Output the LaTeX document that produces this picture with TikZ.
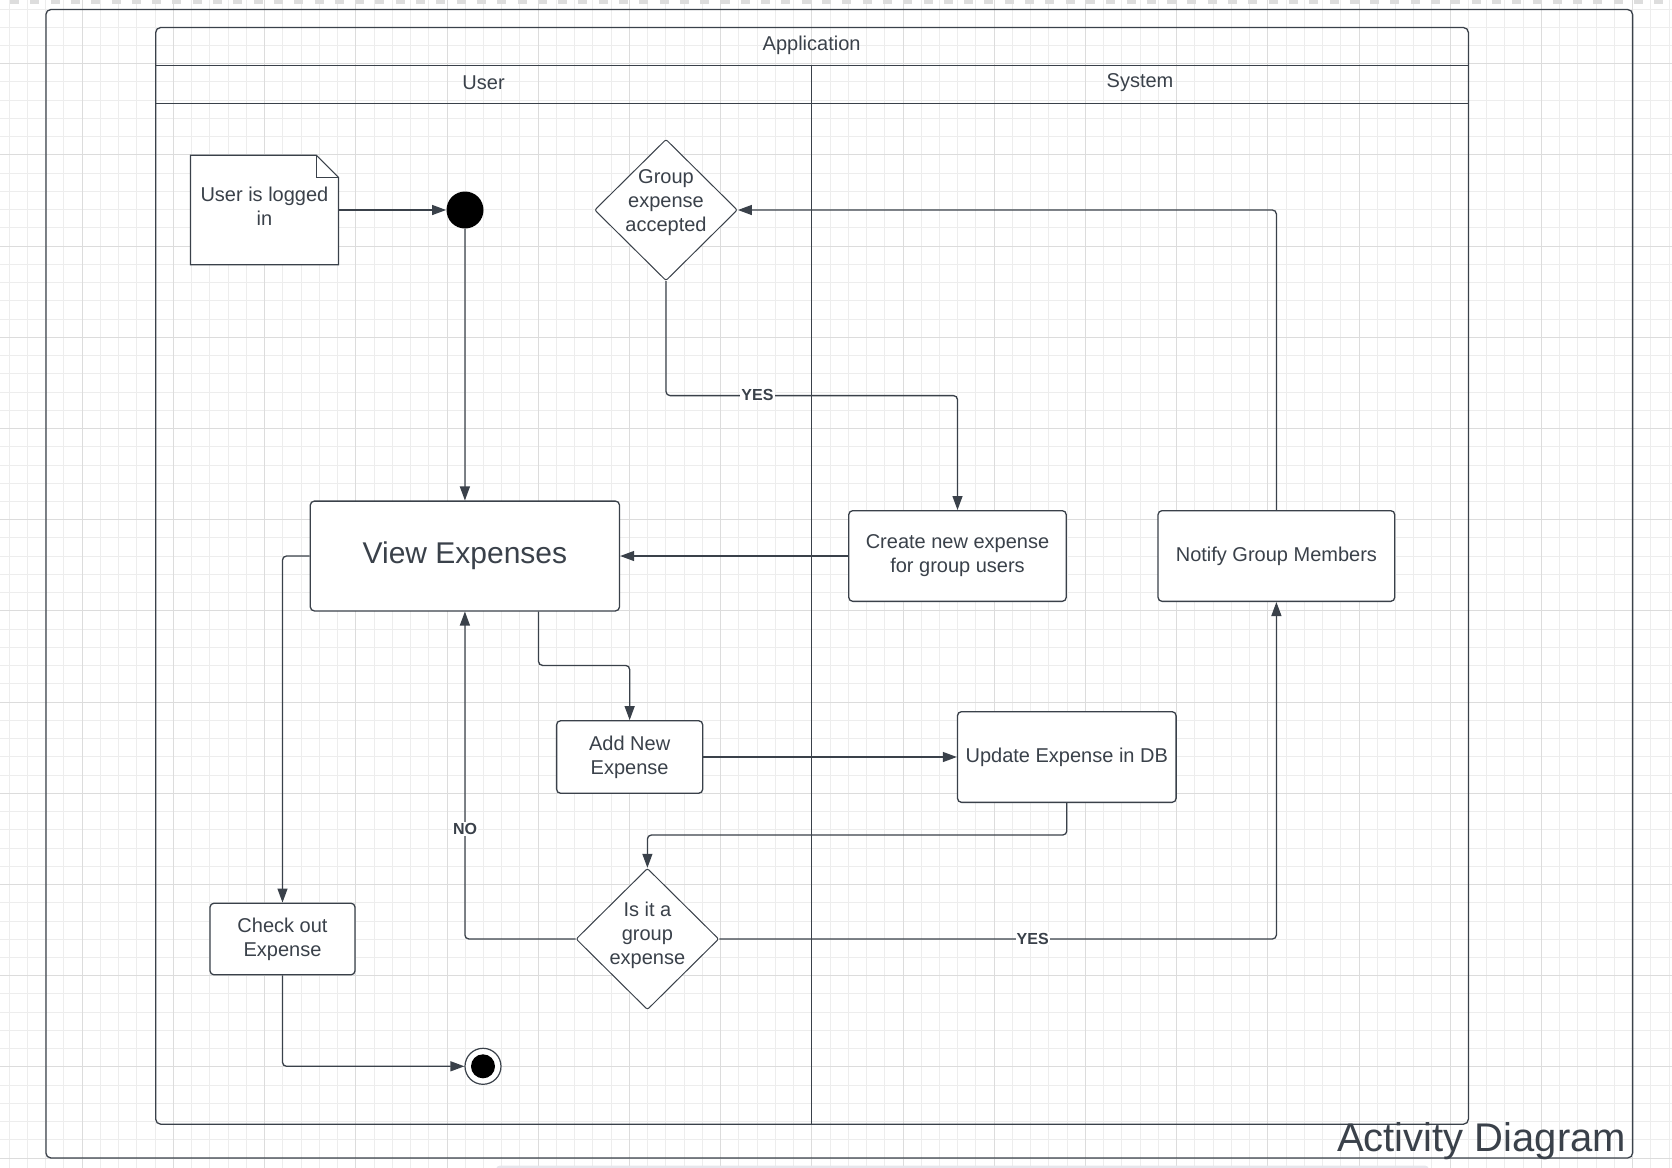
\documentclass[tikz,border=0pt]{standalone}
\usepackage{fontspec}
\setmainfont{Liberation Sans}
\usetikzlibrary{arrows.meta,shapes.geometric}
\definecolor{ln}{HTML}{3A414A}
\definecolor{gmin}{HTML}{EDEDED}
\definecolor{gmaj}{HTML}{DCDCDC}
\definecolor{dashc}{HTML}{DDDDDD}
\definecolor{barc}{HTML}{E6E6EC}
\begin{document}
\begin{tikzpicture}[x=0.5pt,y=-0.5pt,
  every node/.style={text=ln},
  act/.style={draw=ln, line width=0.65pt, fill=white, rounded corners=2pt, align=center, inner sep=2pt, font=\fontsize{10}{12}\selectfont},
  dec/.style={draw=ln, line width=0.5pt, fill=white, diamond, inner sep=0pt, rounded corners=1pt, minimum width=71.4pt, minimum height=70.7pt},
  dectext/.style={align=center, inner sep=0pt, font=\fontsize{10}{12}\selectfont},
  flow/.style={draw=ln, line width=0.65pt, rounded corners=2pt, -{Triangle[length=7pt,width=5pt]}},
  lbl/.style={font=\bfseries\fontsize{8}{9.6}\selectfont, fill=white, inner sep=0.6pt},
  frame/.style={draw=ln, line width=0.65pt},
  lanetext/.style={font=\fontsize{10}{12}\selectfont, inner sep=0pt}
]
\clip (0,0) rectangle (1672,1168);
% background grid
\foreach \i in {0,...,91} {\draw[gmin, line width=0.5pt] ({9.24+18.24*\i},0) -- ({9.24+18.24*\i},1168);}
\foreach \i in {0,...,63} {\draw[gmin, line width=0.5pt] (0,{9+18.24*\i}) -- (1672,{9+18.24*\i});}
\foreach \i in {0,...,17} {\draw[gmaj, line width=0.5pt] ({82.2+91.2*\i},0) -- ({82.2+91.2*\i},1168);}
\foreach \i in {0,...,12} {\draw[gmaj, line width=0.5pt] (0,{63.7+91.2*\i}) -- (1672,{63.7+91.2*\i});}
\draw[dashc, line width=2pt, dash pattern=on 4.5pt off 5.65pt] (10,2) -- (1672,2);
\fill[barc, rounded corners=2pt] (496,1165.5) rectangle (1429,1180);

% outer frame and pool
\draw[frame, rounded corners=2.5pt] (45.9,9.5) rectangle (1632.6,1158);
\draw[frame, rounded corners=2.5pt] (155.7,27.5) rectangle (1468.4,1124.2);
\draw[frame] (155.7,65.3) -- (1468.4,65.3);
\draw[frame] (155.7,103.4) -- (1468.4,103.4);
\draw[frame] (811.6,65.3) -- (811.6,1124.2);
\node[lanetext] (pooltitle) at (811.6,45) {Application};
\node[lanetext] (laneuser) at (483.6,83) {User};
\node[lanetext] (lanesys) at (1140,83) {System};

% note
\node[minimum width=73.55pt, minimum height=54.35pt, inner sep=0pt] (note) at (264.45,210) {};
\filldraw[draw=ln, fill=white, line width=0.6pt] (note.north west) -- ([xshift=-11pt]note.north east) -- ([yshift=-11pt]note.north east) -- (note.south east) -- (note.south west) -- cycle;
\draw[ln, line width=0.5pt] ([xshift=-11pt]note.north east) -- ([xshift=-11pt,yshift=-11pt]note.north east) -- ([yshift=-11pt]note.north east);
\node[dectext] (notetext) at (264.45,206) {User is logged\\in};

% start / end
\node[circle, fill=black, inner sep=0pt, minimum size=18.5pt] (init) at (465,210) {};
\node[circle, draw=ln, line width=0.6pt, fill=white, inner sep=0pt, minimum size=18pt] (final) at (483,1066.3) {};
\node[circle, fill=black, inner sep=0pt, minimum size=12pt] (finaldot) at (final.center) {};

% activities
\node[act, minimum width=154.6pt, minimum height=54.9pt, font=\fontsize{15}{18}\selectfont] (view) at (464.9,556) {View Expenses};
\node[act, minimum width=108.75pt, minimum height=45.35pt] (create) at (957.5,556) {Create new expense\\for group users};
\node[act, minimum width=118.35pt, minimum height=45.35pt] (notify) at (1276.4,556) {Notify Group Members};
\node[act, minimum width=73.05pt, minimum height=36.25pt] (add) at (629.65,757) {Add New\\Expense};
\node[act, minimum width=109.3pt, minimum height=45.35pt] (update) at (1066.8,757) {Update Expense in DB};
\node[act, minimum width=72.5pt, minimum height=35.8pt] (check) at (282.5,939) {Check out\\Expense};

% decisions
\node[dec] (gdec) at (666,210) {};
\node[dectext] (gdectext) at (666,203) {Group\\expense\\accepted};
\node[dec] (isdec) at (647.4,939) {};
\node[dectext] (isdectext) at (647.4,935) {Is it a\\group\\expense};

% connectors
\coordinate (b1) at (0,395.6);
\coordinate (vb) at (538.5,665.4);
\coordinate (ub) at (0,835);
\draw[flow] (note.east) -- (init.west);
\draw[flow] (init.south) -- (view.north);
\draw[flow] (gdec.south) -- (gdec.south |- b1) -| (create.north);
\draw[flow] (create.west) -- (view.east);
\draw[flow] (notify.north) |- (gdec.east);
\draw[flow] (vb |- view.south) -- (vb) -| (add.north);
\draw[flow] (add.east) -- (update.west);
\draw[flow] (update.south) -- (update.south |- ub) -| (isdec.north);
\draw[flow] (isdec.west) -| (view.south);
\draw[flow] (isdec.east) -| (notify.south);
\draw[flow] (view.west) -| (check.north);
\draw[flow] (check.south) |- (final.west);

\node[lbl] (yes1) at (757.5,394.5) {YES};
\node[lbl] (no) at (465,829) {NO};
\node[lbl] (yes2) at (1032.7,938.5) {YES};

\node[anchor=base east, inner sep=0pt, font=\fontsize{20}{24}\selectfont] (title) at (1626.5,1151.7) {Activity Diagram};
\end{tikzpicture}
\end{document}
